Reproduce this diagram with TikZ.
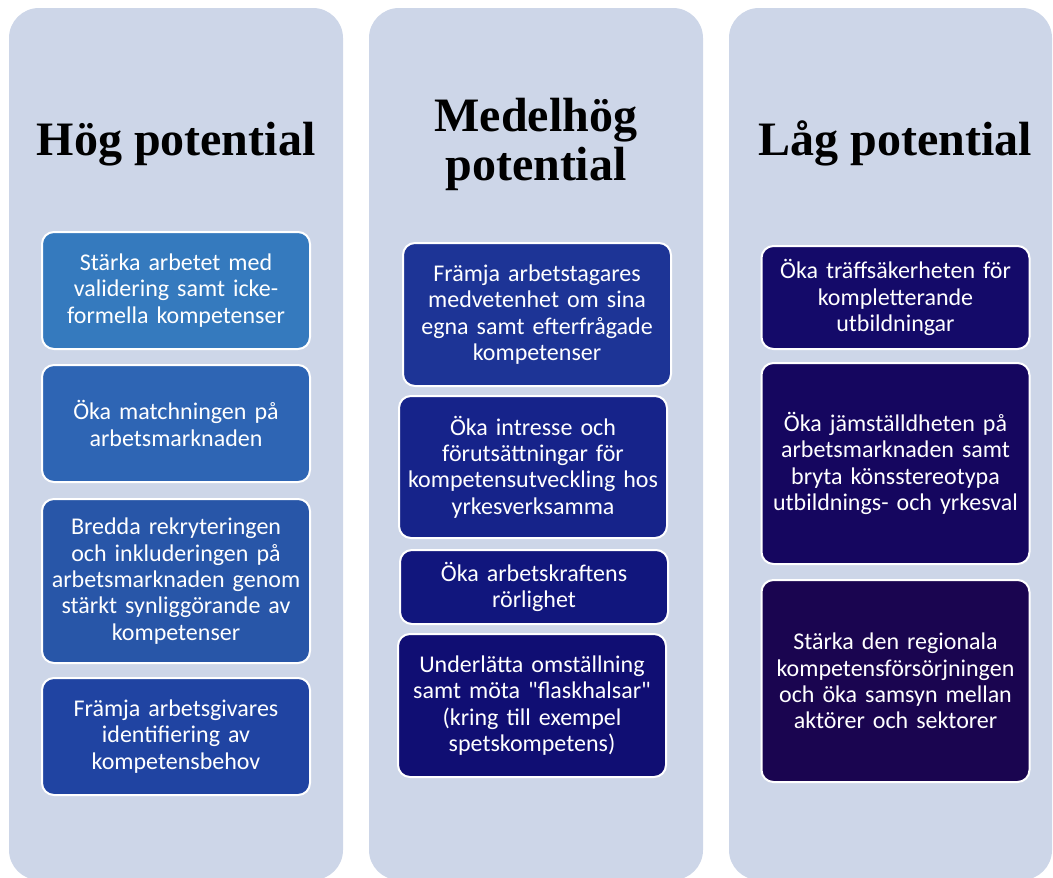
\documentclass[tikz,border=0pt]{standalone}
\usepackage{fontspec}
\setmainfont{Carlito}[Ligatures=TeXOff]
\newfontfamily\headfont{Liberation Serif}
\usetikzlibrary{positioning}

\definecolor{panelbg}{RGB}{205,214,232}
\definecolor{hogA}{RGB}{53,122,190}
\definecolor{hogB}{RGB}{46,101,180}
\definecolor{hogC}{RGB}{40,86,168}
\definecolor{hogD}{RGB}{32,68,162}
\definecolor{medA}{RGB}{29,52,150}
\definecolor{medB}{RGB}{22,35,138}
\definecolor{medC}{RGB}{17,22,125}
\definecolor{medD}{RGB}{16,14,115}
\definecolor{lagA}{RGB}{20,10,105}
\definecolor{lagB}{RGB}{21,6,95}
\definecolor{lagC}{RGB}{26,5,80}

\begin{document}
\begin{tikzpicture}[x=0.75pt, y=-0.75pt,
    panel/.style={fill=panelbg, rounded corners=22.5pt},
    heading/.style={font=\headfont\bfseries\fontsize{36}{36.75}\selectfont, align=center, anchor=base},
    goal/.style={rectangle, rounded corners=9pt, draw=white, line width=1.5pt, text=white,
        text width=196pt, align=center, minimum width=201pt, inner sep=0pt,
        font=\fontsize{18}{19.8}\selectfont}]
    \useasboundingbox (0,0) rectangle (1053,878);
    \clip (0,0) rectangle (1053,878);

    % Background panels
    \path[panel] (9,8) rectangle (343,880);
    \path[panel] (369,8) rectangle (703,880);
    \path[panel] (729,8) rectangle (1052,880);

    % Headings
    \node[heading] (hog_title) at (176,155) {Hög potential};
    \node[heading] (med_title) at (536,180) {Medelhög\\potential};
    \node[heading] (lag_title) at (895,155) {Låg potential};

    % High potential - left column
    \node[goal, fill=hogA, minimum height=87.75pt, anchor=north] (hog_a) at (176,231) {
        Stärka arbetet med\\validering samt icke-\\formella kompetenser};
    \node[goal, fill=hogB, minimum height=87.75pt, below=10.5pt of hog_a] (hog_b) {
        Öka matchningen på\\arbetsmarknaden};
    \node[goal, fill=hogC, minimum height=123pt, below=11.25pt of hog_b] (hog_c) {
        Bredda rekryteringen\\och inkluderingen på\\arbetsmarknaden genom\\stärkt synliggörande av\\kompetenser};
    \node[goal, fill=hogD, minimum height=87.75pt, below=9.75pt of hog_c] (hog_d) {
        Främja arbetsgivares\\identifiering av\\kompetensbehov};

    % Medium potential - middle column
    \node[goal, fill=medA, minimum height=107.25pt, anchor=north] (med_a) at (537,242) {
        Främja arbetstagares\\medvetenhet om sina\\egna samt efterfrågade\\kompetenser};
    \node[goal, fill=medB, minimum height=106.5pt, below=6pt of med_a, xshift=-3pt] (med_b) {
        Öka intresse och\\förutsättningar för\\kompetensutveckling hos\\yrkesverksamma};
    \node[goal, fill=medC, minimum height=55.5pt, below=7.5pt of med_b, xshift=0.75pt] (med_c) {
        Öka arbetskraftens\\rörlighet};
    \node[goal, fill=medD, minimum height=107.25pt, below=6pt of med_c, xshift=-1.5pt] (med_d) {
        Underlätta omställning\\samt möta "flaskhalsar"\\(kring till exempel\\spetskompetens)};

    % Low potential - right column
    \node[goal, fill=lagA, minimum height=77.25pt, anchor=north] (lag_a) at (895.5,245) {
        Öka träffsäkerheten för\\kompletterande\\utbildningar};
    \node[goal, fill=lagB, minimum height=150.75pt, below=9pt of lag_a] (lag_b) {
        Öka jämställdheten på\\arbetsmarknaden samt\\bryta könsstereotypa\\utbildnings- och yrkesval};
    \node[goal, fill=lagC, minimum height=151.5pt, below=10.5pt of lag_b] (lag_c) {
        Stärka den regionala\\kompetensförsörjningen\\och öka samsyn mellan\\aktörer och sektorer};
\end{tikzpicture}
\end{document}
